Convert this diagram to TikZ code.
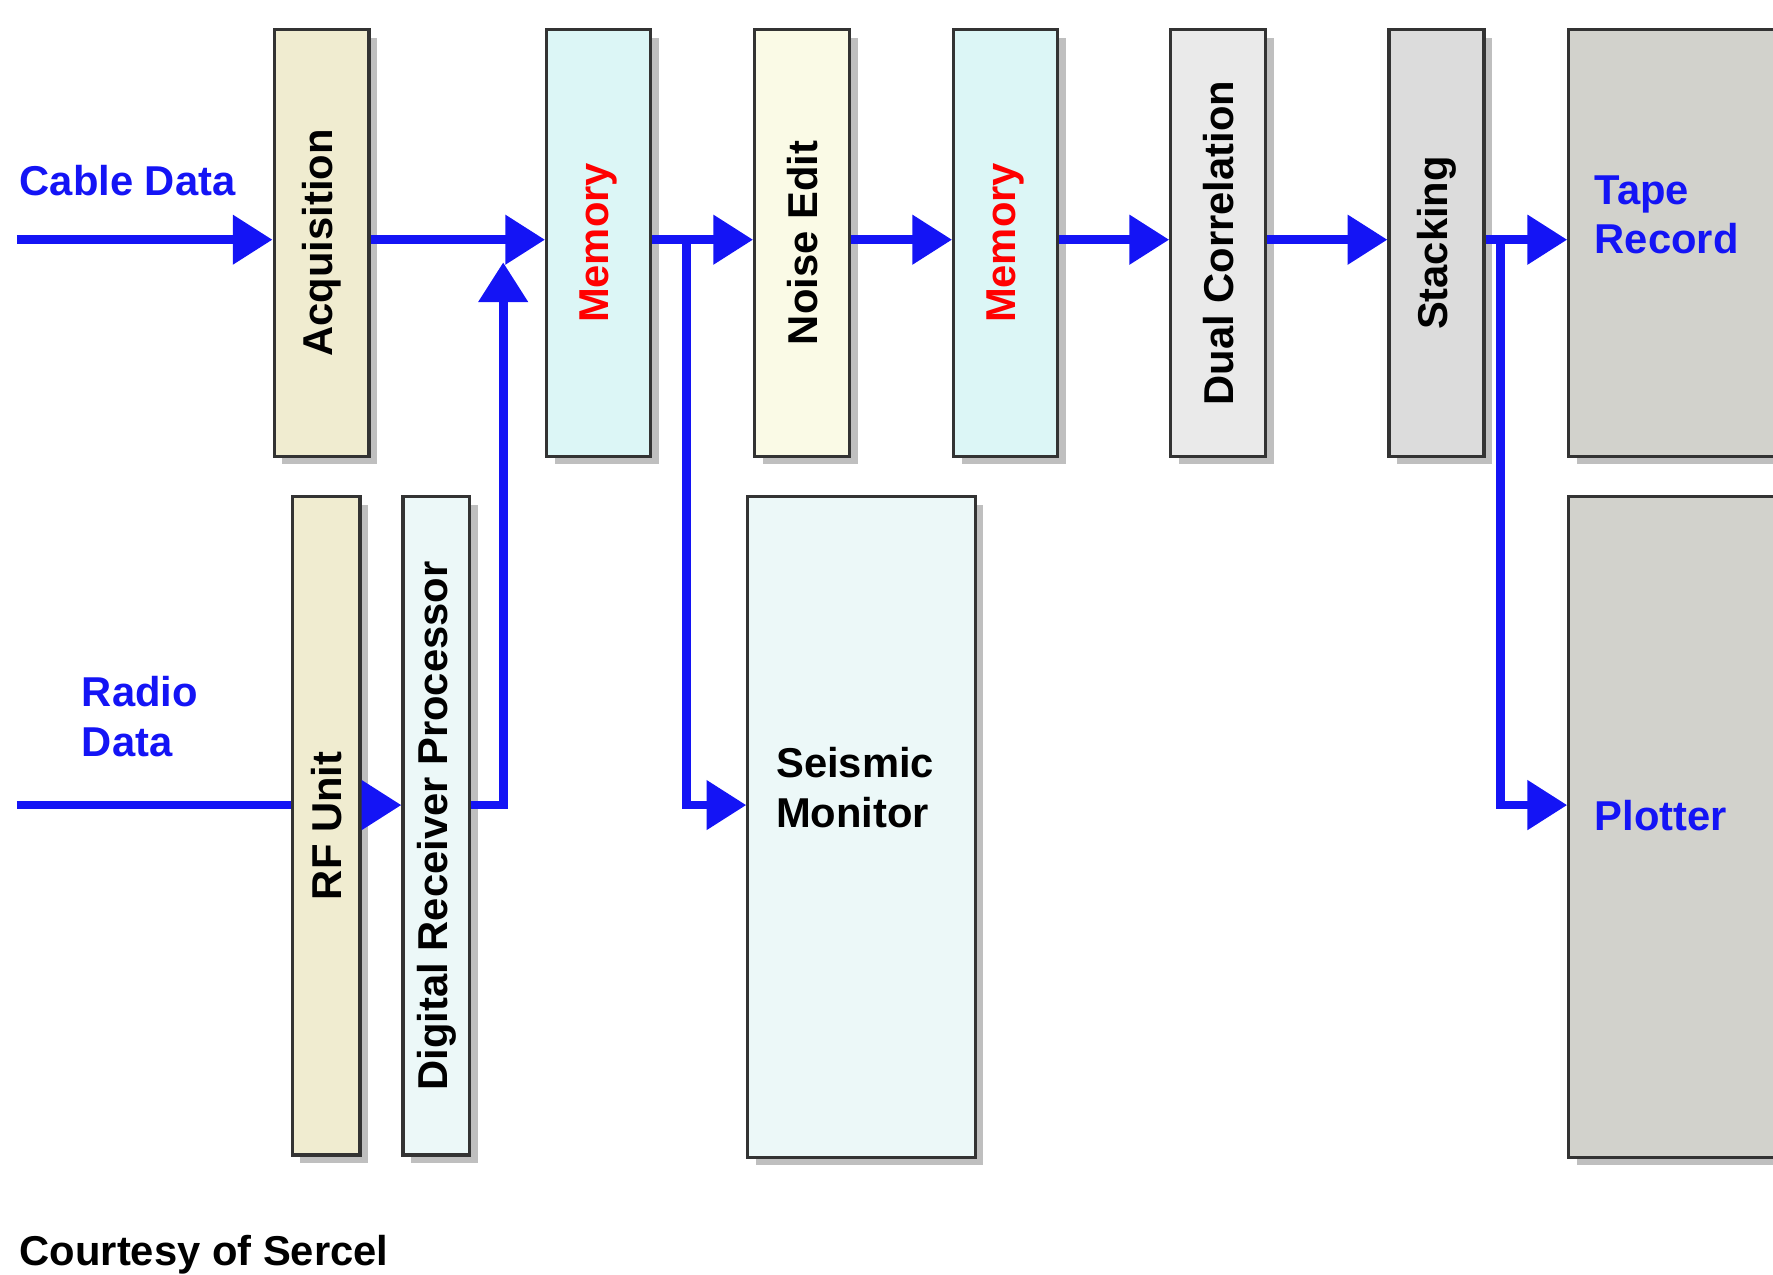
\documentclass[tikz,border=0pt]{standalone}
\usepackage{fontspec}
\setmainfont{Liberation Sans}
\usetikzlibrary{arrows.meta,positioning,shadows,calc}
\definecolor{flowblue}{RGB}{20,20,245}
\definecolor{beige}{RGB}{240,236,208}
\definecolor{memcyan}{RGB}{220,246,246}
\definecolor{paleyel}{RGB}{250,250,230}
\definecolor{palecyan}{RGB}{236,248,248}
\definecolor{lightgr}{RGB}{234,234,234}
\definecolor{midgr}{RGB}{220,220,220}
\definecolor{darkgr}{RGB}{210,210,204}
\begin{document}
\begin{tikzpicture}[
    x=1cm, y=1cm,
    box/.style={
        rectangle, draw=black!80, thick, anchor=north west,
        drop shadow={shadow xshift=2pt, shadow yshift=-2pt, opacity=0.5},
        font=\bfseries\fontsize{10.5}{12.5}\selectfont
    },
    vbox/.style={box, rotate=90, anchor=north east},
    flow/.style={-{Triangle[length=10pt, width=12pt]}, line width=2.2pt, flowblue},
    line/.style={line width=2.2pt, flowblue},
    lbl/.style={font=\bfseries\fontsize{10.5}{12.5}\selectfont, text=flowblue, align=left, anchor=west}
]
\useasboundingbox (0,0) rectangle (15.68,-11.27);

% Upper chain
\node[vbox, fill=beige, minimum width=3.77cm, minimum height=0.84cm] (acq) at (2.41,-0.25) {Acquisition};
\node[vbox, fill=memcyan, text=red, minimum width=3.77cm, minimum height=0.92cm] (mem1) at (4.82,-0.25) {Memory};
\node[vbox, fill=paleyel, minimum width=3.77cm, minimum height=0.84cm] (noise) at (6.66,-0.25) {Noise Edit};
\node[vbox, fill=memcyan, text=red, minimum width=3.77cm, minimum height=0.92cm] (mem2) at (8.42,-0.25) {Memory};
\node[vbox, fill=lightgr, minimum width=3.77cm, minimum height=0.84cm] (dual) at (10.34,-0.25) {Dual Correlation};
\node[vbox, fill=midgr, minimum width=3.77cm, minimum height=0.84cm] (stack) at (12.27,-0.25) {Stacking};
\node[box, fill=darkgr, minimum width=2.0cm, minimum height=3.77cm] (tape) at (13.86,-0.25) {};
\node[lbl] at ($(tape.west)+(0.12,0.25)$) {Tape\\Record};

% Lower blocks
\node[vbox, fill=beige, minimum width=5.82cm, minimum height=0.6cm] (rf) at (2.57,-4.38) {RF Unit};
\node[vbox, fill=palecyan, minimum width=5.82cm, minimum height=0.59cm] (drp) at (3.55,-4.38) {Digital Receiver Processor};
\node[box, fill=palecyan, minimum width=2.01cm, minimum height=5.84cm] (seis) at (6.60,-4.38) {};
\node[box, fill=darkgr, minimum width=2.0cm, minimum height=5.84cm] (plot) at (13.86,-4.38) {};
\node[lbl] at ($(plot.west)+(0.12,0.1)$) {Plotter};
\node[font=\bfseries\fontsize{10.5}{12.5}\selectfont, align=left, anchor=west] (seistxt) at ($(seis.west)+(0.14,0.35)$) {Seismic\\Monitor};

% Inputs
\coordinate (cablein) at (0.15,-2.12);
\coordinate (radioin) at (0.15,-7.12);
\node[lbl] (cable) at (0.05,-1.6) {Cable Data};
\node[lbl] (radio) at (0.6,-6.34) {Radio\\Data};
\node[font=\bfseries\fontsize{10.5}{12.5}\selectfont, anchor=west] (credit) at (0.05,-11.1) {Courtesy of Sercel};

% Connectors
\coordinate (join) at (4.45,-2.32);
\coordinate (tap1) at (6.07,-2.12);
\coordinate (tap2) at (13.27,-2.12);
\draw[flow] (cablein) -- (acq.north |- cablein);
\draw[flow] (acq.south |- cablein) -- (mem1.north |- cablein);
\draw[line] (radioin) -- (rf.north |- radioin);
\draw[flow] (rf.south |- radioin) -- (drp.north |- radioin);
\draw[flow] (drp.south |- radioin) -| (join);
\draw[flow] (mem1.south |- cablein) -- (noise.north |- cablein);
\draw[flow] (tap1) |- (seis.west |- radioin);
\draw[flow] (noise.south |- cablein) -- (mem2.north |- cablein);
\draw[flow] (mem2.south |- cablein) -- (dual.north |- cablein);
\draw[flow] (dual.south |- cablein) -- (stack.north |- cablein);
\draw[flow] (stack.south |- cablein) -- (tape.west |- cablein);
\draw[flow] (tap2) |- (plot.west |- radioin);
\end{tikzpicture}
\end{document}
